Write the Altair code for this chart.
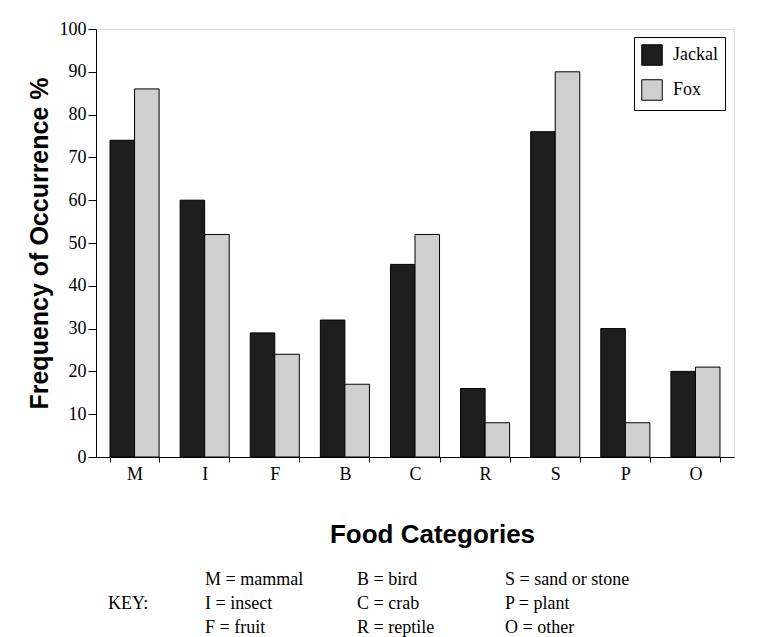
import altair as alt
import pandas as pd

categories = ["M", "I", "F", "B", "C", "R", "S", "P", "O"]
jackal = [74, 60, 29, 32, 45, 16, 76, 30, 20]
fox = [86, 52, 24, 17, 52, 8, 90, 8, 21]
series = ["Jackal", "Fox"]
y_ticks = [0, 10, 20, 30, 40, 50, 60, 70, 80, 90, 100]

key_label = "KEY:"
key_col1 = ["M = mammal", "I = insect", "F = fruit"]
key_col2 = ["B = bird", "C = crab", "R = reptile"]
key_col3 = ["S = sand or stone", "P = plant", "O = other"]

rows = []
for c, j, f in zip(categories, jackal, fox):
    rows.append({"cat": c, "animal": "Jackal", "val": j})
    rows.append({"cat": c, "animal": "Fox", "val": f})
df = pd.DataFrame(rows)

SERIF = "Liberation Serif"
SANS = "Liberation Sans"

bars = alt.Chart(df).mark_bar(stroke="black", strokeWidth=1).encode(
    x=alt.X("cat:N", sort=categories,
            scale=alt.Scale(paddingInner=0.3),
            axis=alt.Axis(title="Food Categories", labelAngle=0, tickBand="extent",
                          labelFont=SERIF, labelFontSize=18, labelColor="black",
                          titleFont=SANS, titleFontSize=26, titleFontWeight="bold",
                          titleColor="black", titlePadding=38, labelPadding=3,
                          titleX=336,
                          tickSize=5, tickColor="black", domainColor="black")),
    xOffset=alt.XOffset("animal:N", sort=series, scale=alt.Scale(paddingInner=0, paddingOuter=0)),
    y=alt.Y("val:Q", scale=alt.Scale(domain=[0, 100], nice=False),
            axis=alt.Axis(title="Frequency of Occurrence %", values=y_ticks, grid=False,
                          labelFont=SERIF, labelFontSize=18, labelColor="black",
                          titleFont=SANS, titleFontSize=25, titleFontWeight="bold",
                          titleColor="black", titlePadding=7, labelPadding=2,
                          tickSize=8, tickColor="black", domainColor="black")),
    color=alt.Color("animal:N", sort=series,
                    scale=alt.Scale(domain=series, range=["#1e1e1e", "#cfcfcf"]),
                    legend=alt.Legend(title=None, orient="none", legendX=538, legendY=8,
                                      symbolType="square", symbolSize=420,
                                      symbolStrokeColor="black", symbolStrokeWidth=1,
                                      labelFont=SERIF, labelFontSize=18, labelColor="black",
                                      strokeColor="black", padding=7, rowPadding=9,
                                      labelOffset=10)),
)

def key_text(lines, xv, yv):
    d = pd.DataFrame({"t": ["\n".join(lines)]})
    return alt.Chart(d).mark_text(align="left", baseline="middle", font=SERIF, fontSize=18,
                                  lineBreak="\n", lineHeight=24, color="black").encode(
        text="t:N", x=alt.value(xv), y=alt.value(yv))

key0 = key_text([key_label], 12, 575)
key1 = key_text(key_col1, 109, 551)
key2 = key_text(key_col2, 261, 551)
key3 = key_text(key_col3, 409, 551)

chart = alt.layer(bars, key0, key1, key2, key3).properties(
    width=638, height=428,
    autosize=alt.AutoSizeParams(type="none"),
    padding={"left": 88, "top": 21, "right": 10, "bottom": 180},
).configure_view(stroke="black", strokeWidth=1).configure(background="white")

chart.save("out.html", embed_options={"renderer": "svg", "actions": False})
